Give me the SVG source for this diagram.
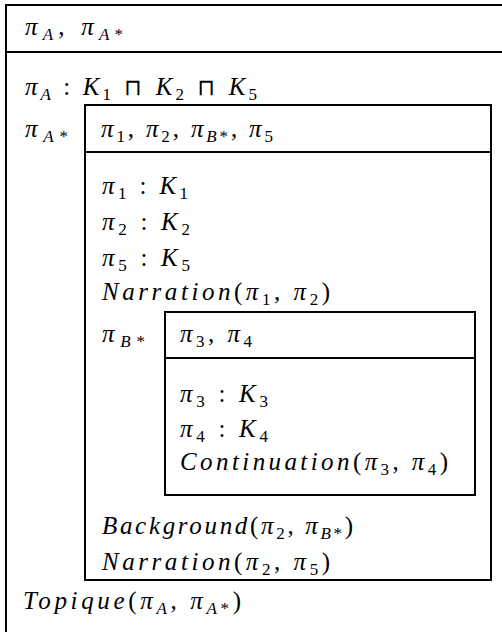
<svg xmlns="http://www.w3.org/2000/svg" width="502" height="632" viewBox="0 0 502 632">
<style>
.bg { fill: #ffffff; }
.ln { stroke: #000; stroke-width: 2; fill: none; }
.t { font-family: "Liberation Serif", "DejaVu Serif", serif; font-size: 25px; fill: #000; }
.i { font-style: italic; }
.s { font-size: 17px; }
.op { font-family: "DejaVu Sans", sans-serif; font-size: 23px; }
</style>
<rect class="bg" x="0" y="0" width="502" height="632"/>

<g id="outer">
  <path class="ln" d="M6 632 V5 H503 M6 52 H503"/>
  <text class="t" x="25" y="35" textLength="98" lengthAdjust="spacing"><tspan class="i">π</tspan><tspan class="s i" dy="5">A</tspan><tspan dy="-5">, </tspan><tspan class="i">π</tspan><tspan class="s" dy="5"><tspan class="i">A</tspan>*</tspan></text>
  <text class="t" x="25" y="95" textLength="232" lengthAdjust="spacing"><tspan class="i">π</tspan><tspan class="s i" dy="5">A</tspan><tspan dy="-5"> : </tspan><tspan class="i">K</tspan><tspan class="s" dy="5">1</tspan><tspan class="op" dy="-5"> ⊓ </tspan><tspan class="i">K</tspan><tspan class="s" dy="5">2</tspan><tspan class="op" dy="-5"> ⊓ </tspan><tspan class="i">K</tspan><tspan class="s" dy="5">5</tspan></text>
  <text class="t" x="25" y="137" textLength="43" lengthAdjust="spacing"><tspan class="i">π</tspan><tspan class="s" dy="5"><tspan class="i">A</tspan>*</tspan></text>
  <text class="t" x="23" y="609" textLength="218" lengthAdjust="spacing"><tspan class="i">Topique</tspan>(<tspan class="i">π</tspan><tspan class="s i" dy="5">A</tspan><tspan dy="-5">, </tspan><tspan class="i">π</tspan><tspan class="s" dy="5"><tspan class="i">A</tspan>*</tspan><tspan dy="-5">)</tspan></text>
</g>

<g id="middle">
  <rect class="ln" x="85" y="105" width="406" height="475"/>
  <line class="ln" x1="85" y1="152" x2="491" y2="152"/>
  <text class="t" x="101" y="137" textLength="172" lengthAdjust="spacing"><tspan class="i">π</tspan><tspan class="s" dy="5">1</tspan><tspan dy="-5">, </tspan><tspan class="i">π</tspan><tspan class="s" dy="5">2</tspan><tspan dy="-5">, </tspan><tspan class="i">π</tspan><tspan class="s" dy="5"><tspan class="i">B</tspan>*</tspan><tspan dy="-5">, </tspan><tspan class="i">π</tspan><tspan class="s" dy="5">5</tspan></text>
  <text class="t" x="102" y="194" textLength="86" lengthAdjust="spacing"><tspan class="i">π</tspan><tspan class="s" dy="5">1</tspan><tspan dy="-5"> : </tspan><tspan class="i">K</tspan><tspan class="s" dy="5">1</tspan></text>
  <text class="t" x="102" y="230" textLength="88" lengthAdjust="spacing"><tspan class="i">π</tspan><tspan class="s" dy="5">2</tspan><tspan dy="-5"> : </tspan><tspan class="i">K</tspan><tspan class="s" dy="5">2</tspan></text>
  <text class="t" x="102" y="266" textLength="88" lengthAdjust="spacing"><tspan class="i">π</tspan><tspan class="s" dy="5">5</tspan><tspan dy="-5"> : </tspan><tspan class="i">K</tspan><tspan class="s" dy="5">5</tspan></text>
  <text class="t" x="102" y="300" textLength="228" lengthAdjust="spacing"><tspan class="i">Narration</tspan>(<tspan class="i">π</tspan><tspan class="s" dy="5">1</tspan><tspan dy="-5">, </tspan><tspan class="i">π</tspan><tspan class="s" dy="5">2</tspan><tspan dy="-5">)</tspan></text>
  <text class="t" x="102" y="342" textLength="43" lengthAdjust="spacing"><tspan class="i">π</tspan><tspan class="s" dy="5"><tspan class="i">B</tspan>*</tspan></text>
  <text class="t" x="102" y="534" textLength="251" lengthAdjust="spacing"><tspan class="i">Background</tspan>(<tspan class="i">π</tspan><tspan class="s" dy="5">2</tspan><tspan dy="-5">, </tspan><tspan class="i">π</tspan><tspan class="s" dy="5"><tspan class="i">B</tspan>*</tspan><tspan dy="-5">)</tspan></text>
  <text class="t" x="102" y="570" textLength="228" lengthAdjust="spacing"><tspan class="i">Narration</tspan>(<tspan class="i">π</tspan><tspan class="s" dy="5">2</tspan><tspan dy="-5">, </tspan><tspan class="i">π</tspan><tspan class="s" dy="5">5</tspan><tspan dy="-5">)</tspan></text>
</g>

<g id="inner">
  <rect class="ln" x="165" y="312" width="310" height="183"/>
  <line class="ln" x1="165" y1="358" x2="475" y2="358"/>
  <text class="t" x="180" y="342" textLength="72" lengthAdjust="spacing"><tspan class="i">π</tspan><tspan class="s" dy="5">3</tspan><tspan dy="-5">, </tspan><tspan class="i">π</tspan><tspan class="s" dy="5">4</tspan></text>
  <text class="t" x="180" y="402" textLength="88" lengthAdjust="spacing"><tspan class="i">π</tspan><tspan class="s" dy="5">3</tspan><tspan dy="-5"> : </tspan><tspan class="i">K</tspan><tspan class="s" dy="5">3</tspan></text>
  <text class="t" x="180" y="437" textLength="88" lengthAdjust="spacing"><tspan class="i">π</tspan><tspan class="s" dy="5">4</tspan><tspan dy="-5"> : </tspan><tspan class="i">K</tspan><tspan class="s" dy="5">4</tspan></text>
  <text class="t" x="180" y="470" textLength="268" lengthAdjust="spacing"><tspan class="i">Continuation</tspan>(<tspan class="i">π</tspan><tspan class="s" dy="5">3</tspan><tspan dy="-5">, </tspan><tspan class="i">π</tspan><tspan class="s" dy="5">4</tspan><tspan dy="-5">)</tspan></text>
</g>

<g id="connectors"></g>
</svg>
